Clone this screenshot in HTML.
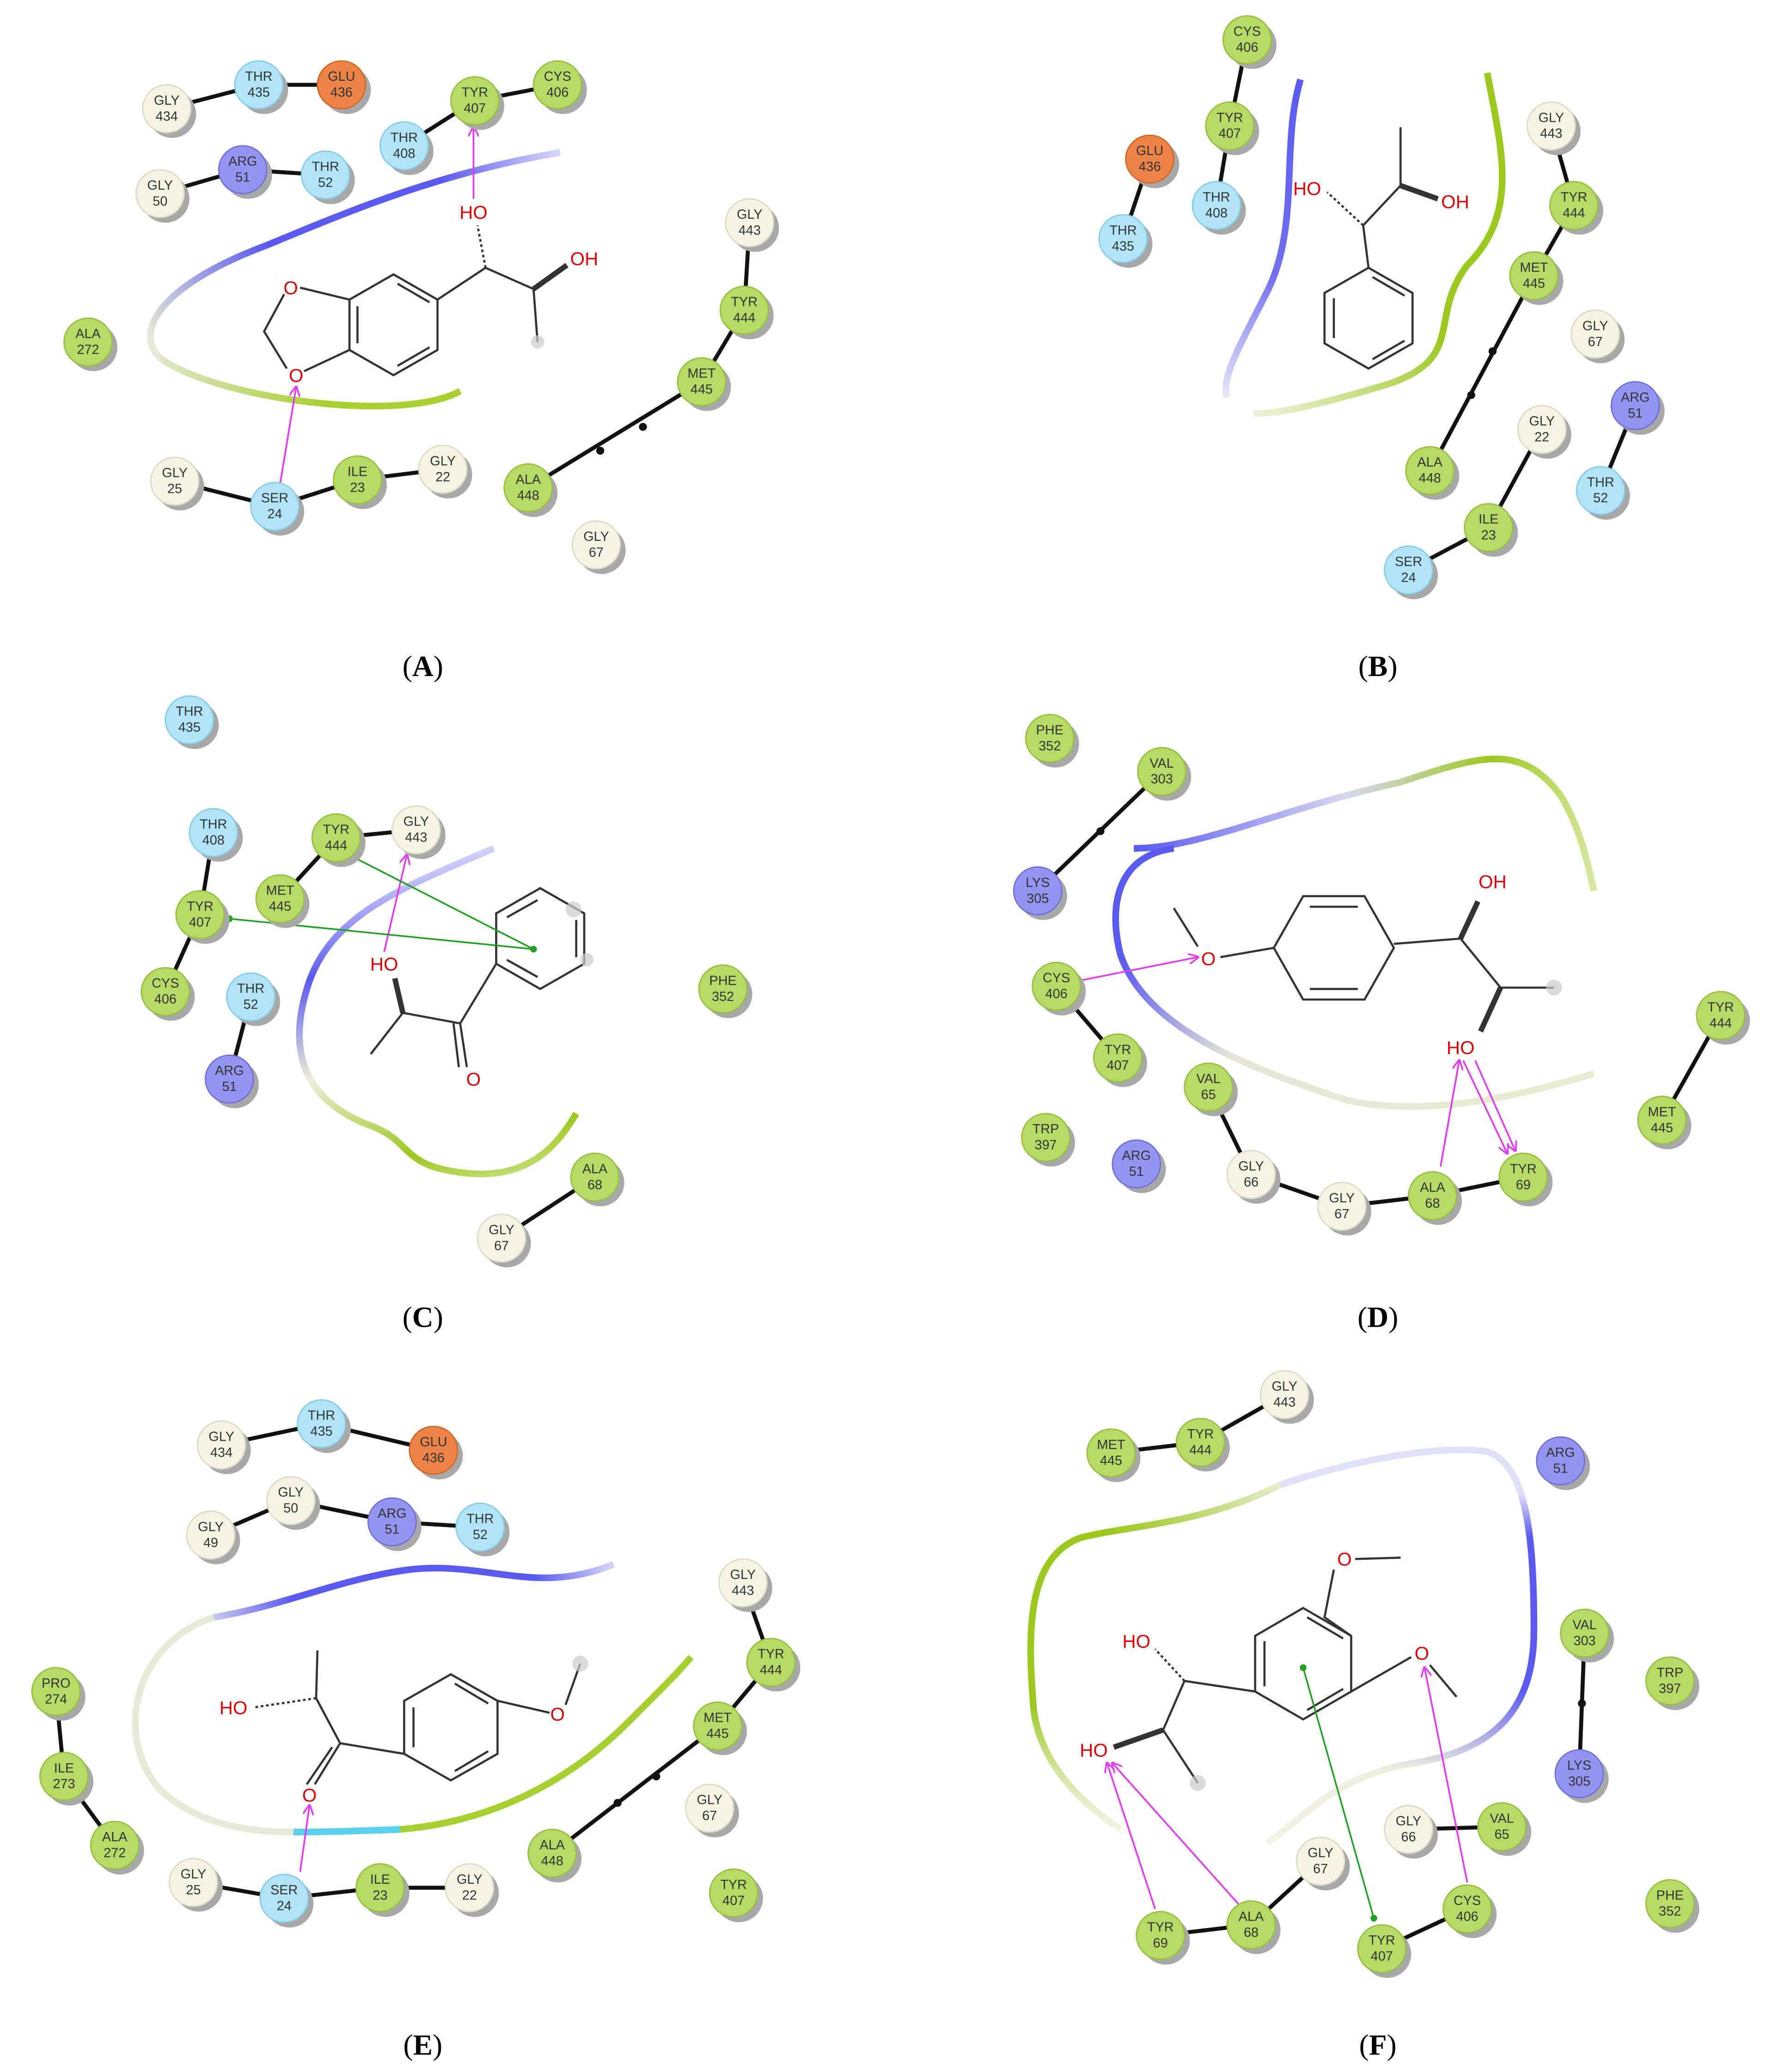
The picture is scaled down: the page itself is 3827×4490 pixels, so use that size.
<!DOCTYPE html>
<html><head><meta charset="utf-8">
<style>
html,body{margin:0;padding:0;background:#fff}
svg{display:block}
.t{font-family:"Liberation Sans",sans-serif;font-size:10px;fill:#333;text-anchor:middle}
.a{font-family:"Liberation Sans",sans-serif;font-size:14px;fill:#e00000;text-anchor:middle}
.lab{font-family:"Liberation Serif",serif;font-size:22px;fill:#000;text-anchor:middle}
.sh{fill:#a8a8a8}
.G{fill:#f4f4e4;stroke:#dcdcc4;stroke-width:1}
.H{fill:#b6da66;stroke:#98c040;stroke-width:1}
.B{fill:#b0e4f6;stroke:#88cce8;stroke-width:1}
.P{fill:#9494f2;stroke:#7070d8;stroke-width:1}
.O{fill:#ec8448;stroke:#d06828;stroke-width:1}
.c{stroke:#111;stroke-width:3;fill:none}
.m{stroke:#333;stroke-width:1.6;fill:none}
.hb{stroke:#e040f0;stroke-width:1.3;fill:none;marker-end:url(#ar)}
.pi{stroke:#20a020;stroke-width:1.2;fill:none}
</style></head><body>
<svg width="3827" height="4490" viewBox="0 0 1324 1563" preserveAspectRatio="none" xmlns="http://www.w3.org/2000/svg">
<defs>
<marker id="ar" markerWidth="8" markerHeight="8" refX="7" refY="4" orient="auto" markerUnits="userSpaceOnUse"><path d="M0,0 L8,4 L0,8" fill="none" stroke="#e040f0" stroke-width="1.3"/></marker>
<linearGradient id="gA1" gradientUnits="userSpaceOnUse" x1="420" y1="115" x2="200" y2="185"><stop offset="0" stop-color="#d8d8f8"/><stop offset="0.4" stop-color="#5a5af0"/><stop offset="1" stop-color="#5a5af0"/></linearGradient>
<linearGradient id="gA2" gradientUnits="userSpaceOnUse" x1="200" y1="185" x2="110" y2="250"><stop offset="0" stop-color="#5a5af0"/><stop offset="1" stop-color="#e6e8d8"/></linearGradient>
<linearGradient id="gA3" gradientUnits="userSpaceOnUse" x1="110" y1="250" x2="345" y2="300"><stop offset="0" stop-color="#e6e8d8"/><stop offset="0.6" stop-color="#a8d030"/><stop offset="1" stop-color="#a8d030"/></linearGradient>
<linearGradient id="gB1" gradientUnits="userSpaceOnUse" x1="975" y1="60" x2="920" y2="300"><stop offset="0" stop-color="#5a5af0"/><stop offset="0.6" stop-color="#7070f0"/><stop offset="1" stop-color="#e8e8f8"/></linearGradient>
<linearGradient id="gB2" gradientUnits="userSpaceOnUse" x1="1115" y1="55" x2="940" y2="312"><stop offset="0" stop-color="#9cc820"/><stop offset="0.6" stop-color="#9cc820"/><stop offset="1" stop-color="#eef2d8"/></linearGradient>
<linearGradient id="gC" gradientUnits="userSpaceOnUse" x1="370" y1="640" x2="430" y2="880"><stop offset="0" stop-color="#d0d0f8"/><stop offset="0.25" stop-color="#5a5af0"/><stop offset="0.55" stop-color="#eeeed8"/><stop offset="0.85" stop-color="#9cc820"/><stop offset="1" stop-color="#c8e080"/></linearGradient>
<linearGradient id="gD1" gradientUnits="userSpaceOnUse" x1="850" y1="640" x2="1195" y2="670"><stop offset="0" stop-color="#5a5af0"/><stop offset="0.45" stop-color="#d8d8f0"/><stop offset="0.75" stop-color="#9cc820"/><stop offset="1" stop-color="#d8e8a0"/></linearGradient>
<linearGradient id="gD2" gradientUnits="userSpaceOnUse" x1="880" y1="650" x2="1190" y2="810"><stop offset="0" stop-color="#5a5af0"/><stop offset="0.3" stop-color="#e6e6d8"/><stop offset="1" stop-color="#e8ecd0"/></linearGradient>
<linearGradient id="gE1" gradientUnits="userSpaceOnUse" x1="460" y1="1180" x2="160" y2="1220"><stop offset="0" stop-color="#d8d8f8"/><stop offset="0.2" stop-color="#5a5af0"/><stop offset="0.8" stop-color="#5a5af0"/><stop offset="1" stop-color="#c8c8f0"/></linearGradient>
<linearGradient id="gF1" gradientUnits="userSpaceOnUse" x1="960" y1="1120" x2="840" y2="1380"><stop offset="0" stop-color="#e8eed0"/><stop offset="0.3" stop-color="#9cc820"/><stop offset="0.8" stop-color="#9cc820"/><stop offset="1" stop-color="#f0f4e0"/></linearGradient>
<linearGradient id="gF2" gradientUnits="userSpaceOnUse" x1="960" y1="1120" x2="950" y2="1390"><stop offset="0" stop-color="#e0e0f8"/><stop offset="0.12" stop-color="#5a5af0"/><stop offset="0.55" stop-color="#5a5af0"/><stop offset="0.78" stop-color="#eeeede"/><stop offset="1" stop-color="#f2f2e6"/></linearGradient>
</defs>

<!-- Curves -->
<path d="M420,115 C330,130 260,160 200,185" stroke="url(#gA1)" stroke-width="5" fill="none"/>
<path d="M200,185 C120,215 100,250 120,270" stroke="url(#gA2)" stroke-width="5" fill="none"/>
<path d="M120,270 C160,300 300,320 345,295" stroke="url(#gA3)" stroke-width="5" fill="none"/>
<path d="M975,60 C960,110 975,170 950,220 C930,260 915,285 920,300" stroke="url(#gB1)" stroke-width="5" fill="none"/>
<path d="M1115,55 C1125,110 1140,160 1100,200 C1070,240 1100,270 1040,290 C990,305 960,312 940,312" stroke="url(#gB2)" stroke-width="5" fill="none"/>
<path d="M370,640 C300,670 250,690 232,740 C215,790 225,830 280,850 C310,862 300,880 350,885 C400,890 420,860 432,840" stroke="url(#gC)" stroke-width="5" fill="none"/>
<path d="M850,640 C900,640 960,610 1050,590 C1110,570 1140,560 1170,600 C1185,625 1190,650 1195,672" stroke="url(#gD1)" stroke-width="5" fill="none"/>
<path d="M880,640 C840,645 830,680 840,720 C860,780 950,810 1010,830 C1080,845 1160,820 1195,810" stroke="url(#gD2)" stroke-width="5" fill="none"/>
<path d="M460,1180 C400,1205 360,1175 300,1185 C250,1193 210,1212 160,1220" stroke="url(#gE1)" stroke-width="5" fill="none"/>
<path d="M160,1220 C100,1240 85,1310 120,1350 C150,1378 190,1382 220,1382" stroke="#e8ead8" stroke-width="5" fill="none"/>
<path d="M220,1382 C250,1382 270,1381 300,1380" stroke="#58d0ee" stroke-width="5" fill="none"/>
<path d="M300,1380 C360,1375 420,1350 470,1300 C495,1275 510,1260 518,1250" stroke="#a6d030" stroke-width="5" fill="none"/>
<path d="M960,1120 C900,1150 850,1150 810,1160 C770,1175 770,1230 775,1290 C780,1330 810,1360 840,1380" stroke="url(#gF1)" stroke-width="5" fill="none"/>
<path d="M960,1120 C1020,1100 1080,1090 1115,1095 C1145,1105 1150,1160 1150,1230 C1150,1290 1120,1320 1060,1330 C1000,1340 980,1370 950,1390" stroke="url(#gF2)" stroke-width="5" fill="none"/>

<!-- Chains -->
<g class="c">
<polyline points="125,82 194,64 256,64"/><polyline points="303,110 356,76 418,64"/><polyline points="120,146 182,128 244,132"/>
<polyline points="562,168 558,234 526,288 396,368"/><polyline points="131,363 206,382 268,362 332,354"/>
<polyline points="935,30 922,95 912,155"/><line x1="862" y1="120" x2="842" y2="180"/><polyline points="1163,95 1180,155 1150,208 1072,355"/>
<polyline points="1156,324 1116,398 1056,430"/><line x1="1226" y1="306" x2="1200" y2="370"/>
<polyline points="160,628 150,690 124,748"/><polyline points="312,626 252,632 210,678"/><line x1="188" y1="752" x2="172" y2="814"/><line x1="446" y1="888" x2="376" y2="934"/>
<line x1="871" y1="582" x2="778" y2="672"/><polyline points="792,744 838,798"/><polyline points="906,820 938,886 1006,910 1074,902 1142,888"/><line x1="1290" y1="766" x2="1246" y2="845"/>
<polyline points="166,1090 241,1074 325,1094"/><polyline points="158,1158 218,1132 294,1148 360,1152"/><polyline points="42,1276 48,1340 86,1392"/>
<polyline points="557,1194 578,1254 538,1302 414,1398"/><polyline points="145,1420 213,1432 285,1424 352,1424"/>
<polyline points="833,1096 900,1088 963,1052"/><line x1="1188" y1="1232" x2="1184" y2="1338"/><line x1="1056" y1="1380" x2="1126" y2="1378"/>
<polyline points="870,1460 938,1452 990,1404"/><line x1="1036" y1="1470" x2="1100" y2="1440"/>
</g>
<g fill="#111"><circle cx="450" cy="340" r="3"/><circle cx="482" cy="322" r="3"/><circle cx="1103" cy="298" r="3"/><circle cx="1119" cy="265" r="3"/><circle cx="825" cy="627" r="3"/><circle cx="463" cy="1360" r="3"/><circle cx="492" cy="1340" r="3"/><circle cx="1186" cy="1285" r="3"/></g>

<!-- Molecules -->
<g class="m">
<polygon points="262,226 295,207 328,226 328,264 295,283 262,264"/><line x1="268" y1="231" x2="268" y2="259"/><line x1="298" y1="214" x2="322" y2="228"/><line x1="298" y1="276" x2="322" y2="262"/>
<polyline points="262,226 225,217"/><polyline points="213,222 198,250 215,278"/><line x1="262" y1="264" x2="228" y2="280"/>
<polyline points="328,226 364,202 400,218 403,258"/><line x1="364" y1="202" x2="358" y2="170" stroke-dasharray="2,2"/><line x1="400" y1="218" x2="425" y2="200" stroke-width="4"/>
<polygon points="1026,202 1059,221 1059,259 1026,278 993,259 993,221"/><line x1="1000" y1="225" x2="1000" y2="255"/><line x1="1029" y1="271" x2="1053" y2="257"/><line x1="1029" y1="209" x2="1053" y2="223"/>
<polyline points="1026,202 1022,170 1050,140 1050,96"/><line x1="1022" y1="170" x2="995" y2="145" stroke-dasharray="2,2"/><line x1="1050" y1="140" x2="1078" y2="150" stroke-width="4"/>
<polygon points="372,689 405,670 438,689 438,727 405,746 372,727"/><line x1="380" y1="692" x2="403" y2="679"/><line x1="432" y1="694" x2="432" y2="722"/><line x1="380" y1="724" x2="403" y2="737"/>
<polyline points="372,727 345,772 350,805"/><line x1="340" y1="772" x2="344" y2="805"/><polyline points="345,772 302,764 278,795"/><line x1="302" y1="764" x2="296" y2="738" stroke-width="4"/>
<polygon points="955,715 977,676 1023,676 1045,715 1023,754 977,754"/><line x1="982" y1="684" x2="1018" y2="684"/><line x1="982" y1="746" x2="1018" y2="746"/>
<polyline points="955,715 915,722"/><line x1="898" y1="714" x2="880" y2="685"/>
<polyline points="1045,712 1095,708 1125,745 1165,745"/><line x1="1095" y1="708" x2="1108" y2="680" stroke-width="4"/><line x1="1125" y1="745" x2="1110" y2="778" stroke-width="4"/>
<polygon points="338,1263 373,1283 373,1323 338,1343 303,1323 303,1283"/><line x1="310" y1="1288" x2="310" y2="1318"/><line x1="341" y1="1336" x2="366" y2="1321"/><line x1="341" y1="1270" x2="366" y2="1285"/>
<polyline points="303,1323 255,1315 237,1281 238,1245"/><line x1="255" y1="1315" x2="236" y2="1346"/><line x1="249" y1="1318" x2="230" y2="1346"/><line x1="237" y1="1281" x2="190" y2="1288" stroke-dasharray="2,2"/>
<polyline points="373,1283 412,1292"/><line x1="424" y1="1286" x2="435" y2="1255"/>
<polygon points="977,1213 1013,1234 1013,1276 977,1297 941,1276 941,1234"/><line x1="948" y1="1238" x2="948" y2="1272"/><line x1="980" y1="1290" x2="1007" y2="1274"/><line x1="980" y1="1220" x2="1007" y2="1236"/>
<polyline points="1013,1234 993,1220 1000,1184"/><line x1="1016" y1="1176" x2="1050" y2="1175"/><line x1="1013" y1="1276" x2="1058" y2="1250"/><line x1="1072" y1="1256" x2="1092" y2="1280"/>
<polyline points="941,1276 888,1268 872,1305 898,1345"/><line x1="888" y1="1268" x2="866" y2="1244" stroke-dasharray="2,2"/><line x1="872" y1="1305" x2="835" y2="1318" stroke-width="4"/>
</g>
<g fill="#ccc" opacity="0.7"><circle cx="403" cy="258" r="5"/><circle cx="430" cy="686" r="6"/><circle cx="440" cy="724" r="5"/><circle cx="1165" cy="745" r="6"/><circle cx="435" cy="1255" r="6"/><circle cx="898" cy="1345" r="6"/></g>
<g class="a">
<text x="218" y="222">O</text><text x="222" y="288">O</text><text x="355" y="165">HO</text><text x="438" y="200">OH</text>
<text x="980" y="147">HO</text><text x="1091" y="157">OH</text>
<text x="288" y="732">HO</text><text x="355" y="819">O</text>
<text x="906" y="728">O</text><text x="1119" y="670">OH</text><text x="1095" y="795">HO</text>
<text x="175" y="1293">HO</text><text x="232" y="1359">O</text><text x="418" y="1298">O</text>
<text x="1008" y="1181">O</text><text x="1066" y="1252">O</text><text x="852" y="1243">HO</text><text x="820" y="1325">HO</text>
</g>

<!-- interaction lines -->
<g>
<line class="hb" x1="210" y1="365" x2="222" y2="292"/><line class="hb" x1="355" y1="150" x2="355" y2="96"/>
<line class="hb" x1="288" y1="718" x2="305" y2="645"/>
<line class="pi" x1="172" y1="693" x2="400" y2="716"/><line class="pi" x1="262" y1="645" x2="400" y2="716"/>
<line class="hb" x1="808" y1="740" x2="898" y2="722"/><line class="hb" x1="1080" y1="880" x2="1094" y2="800"/>
<line class="hb" x1="1097" y1="800" x2="1130" y2="870"/><line class="hb" x1="1106" y1="800" x2="1136" y2="868"/>
<line class="hb" x1="225" y1="1412" x2="232" y2="1362"/>
<line class="hb" x1="866" y1="1440" x2="830" y2="1330"/><line class="hb" x1="930" y1="1438" x2="834" y2="1330"/>
<line class="hb" x1="1100" y1="1420" x2="1068" y2="1258"/><line class="pi" x1="977" y1="1258" x2="1030" y2="1447"/>
</g>
<g fill="#20a020"><circle cx="172" cy="693" r="2.5"/><circle cx="400" cy="716" r="2.5"/><circle cx="977" cy="1258" r="2.5"/><circle cx="1030" cy="1447" r="2.5"/></g>

<!-- Residues -->
<g id="res">
<circle class="sh" cx="129" cy="86" r="18"/><circle class="G" cx="125" cy="82" r="18"/><text class="t" x="125" y="79">GLY</text><text class="t" x="125" y="91">434</text>
<circle class="sh" cx="198" cy="68" r="18"/><circle class="B" cx="194" cy="64" r="18"/><text class="t" x="194" y="61">THR</text><text class="t" x="194" y="73">435</text>
<circle class="sh" cx="260" cy="68" r="18"/><circle class="O" cx="256" cy="64" r="18"/><text class="t" x="256" y="61">GLU</text><text class="t" x="256" y="73">436</text>
<circle class="sh" cx="360" cy="80" r="18"/><circle class="H" cx="356" cy="76" r="18"/><text class="t" x="356" y="73">TYR</text><text class="t" x="356" y="85">407</text>
<circle class="sh" cx="422" cy="68" r="18"/><circle class="H" cx="418" cy="64" r="18"/><text class="t" x="418" y="61">CYS</text><text class="t" x="418" y="73">406</text>
<circle class="sh" cx="307" cy="114" r="18"/><circle class="B" cx="303" cy="110" r="18"/><text class="t" x="303" y="107">THR</text><text class="t" x="303" y="119">408</text>
<circle class="sh" cx="186" cy="132" r="18"/><circle class="P" cx="182" cy="128" r="18"/><text class="t" x="182" y="125">ARG</text><text class="t" x="182" y="137">51</text>
<circle class="sh" cx="248" cy="136" r="18"/><circle class="B" cx="244" cy="132" r="18"/><text class="t" x="244" y="129">THR</text><text class="t" x="244" y="141">52</text>
<circle class="sh" cx="124" cy="150" r="18"/><circle class="G" cx="120" cy="146" r="18"/><text class="t" x="120" y="143">GLY</text><text class="t" x="120" y="155">50</text>
<circle class="sh" cx="70" cy="262" r="18"/><circle class="H" cx="66" cy="258" r="18"/><text class="t" x="66" y="255">ALA</text><text class="t" x="66" y="267">272</text>
<circle class="sh" cx="566" cy="172" r="18"/><circle class="G" cx="562" cy="168" r="18"/><text class="t" x="562" y="165">GLY</text><text class="t" x="562" y="177">443</text>
<circle class="sh" cx="562" cy="238" r="18"/><circle class="H" cx="558" cy="234" r="18"/><text class="t" x="558" y="231">TYR</text><text class="t" x="558" y="243">444</text>
<circle class="sh" cx="530" cy="292" r="18"/><circle class="H" cx="526" cy="288" r="18"/><text class="t" x="526" y="285">MET</text><text class="t" x="526" y="297">445</text>
<circle class="sh" cx="400" cy="372" r="18"/><circle class="H" cx="396" cy="368" r="18"/><text class="t" x="396" y="365">ALA</text><text class="t" x="396" y="377">448</text>
<circle class="sh" cx="451" cy="415" r="18"/><circle class="G" cx="447" cy="411" r="18"/><text class="t" x="447" y="408">GLY</text><text class="t" x="447" y="420">67</text>
<circle class="sh" cx="135" cy="367" r="18"/><circle class="G" cx="131" cy="363" r="18"/><text class="t" x="131" y="360">GLY</text><text class="t" x="131" y="372">25</text>
<circle class="sh" cx="210" cy="386" r="18"/><circle class="B" cx="206" cy="382" r="18"/><text class="t" x="206" y="379">SER</text><text class="t" x="206" y="391">24</text>
<circle class="sh" cx="272" cy="366" r="18"/><circle class="H" cx="268" cy="362" r="18"/><text class="t" x="268" y="359">ILE</text><text class="t" x="268" y="371">23</text>
<circle class="sh" cx="336" cy="358" r="18"/><circle class="G" cx="332" cy="354" r="18"/><text class="t" x="332" y="351">GLY</text><text class="t" x="332" y="363">22</text>
<circle class="sh" cx="939" cy="34" r="18"/><circle class="H" cx="935" cy="30" r="18"/><text class="t" x="935" y="27">CYS</text><text class="t" x="935" y="39">406</text>
<circle class="sh" cx="926" cy="99" r="18"/><circle class="H" cx="922" cy="95" r="18"/><text class="t" x="922" y="92">TYR</text><text class="t" x="922" y="104">407</text>
<circle class="sh" cx="866" cy="124" r="18"/><circle class="O" cx="862" cy="120" r="18"/><text class="t" x="862" y="117">GLU</text><text class="t" x="862" y="129">436</text>
<circle class="sh" cx="916" cy="159" r="18"/><circle class="B" cx="912" cy="155" r="18"/><text class="t" x="912" y="152">THR</text><text class="t" x="912" y="164">408</text>
<circle class="sh" cx="846" cy="184" r="18"/><circle class="B" cx="842" cy="180" r="18"/><text class="t" x="842" y="177">THR</text><text class="t" x="842" y="189">435</text>
<circle class="sh" cx="1167" cy="99" r="18"/><circle class="G" cx="1163" cy="95" r="18"/><text class="t" x="1163" y="92">GLY</text><text class="t" x="1163" y="104">443</text>
<circle class="sh" cx="1184" cy="159" r="18"/><circle class="H" cx="1180" cy="155" r="18"/><text class="t" x="1180" y="152">TYR</text><text class="t" x="1180" y="164">444</text>
<circle class="sh" cx="1154" cy="212" r="18"/><circle class="H" cx="1150" cy="208" r="18"/><text class="t" x="1150" y="205">MET</text><text class="t" x="1150" y="217">445</text>
<circle class="sh" cx="1200" cy="256" r="18"/><circle class="G" cx="1196" cy="252" r="18"/><text class="t" x="1196" y="249">GLY</text><text class="t" x="1196" y="261">67</text>
<circle class="sh" cx="1230" cy="310" r="18"/><circle class="P" cx="1226" cy="306" r="18"/><text class="t" x="1226" y="303">ARG</text><text class="t" x="1226" y="315">51</text>
<circle class="sh" cx="1204" cy="374" r="18"/><circle class="B" cx="1200" cy="370" r="18"/><text class="t" x="1200" y="367">THR</text><text class="t" x="1200" y="379">52</text>
<circle class="sh" cx="1160" cy="328" r="18"/><circle class="G" cx="1156" cy="324" r="18"/><text class="t" x="1156" y="321">GLY</text><text class="t" x="1156" y="333">22</text>
<circle class="sh" cx="1076" cy="359" r="18"/><circle class="H" cx="1072" cy="355" r="18"/><text class="t" x="1072" y="352">ALA</text><text class="t" x="1072" y="364">448</text>
<circle class="sh" cx="1120" cy="402" r="18"/><circle class="H" cx="1116" cy="398" r="18"/><text class="t" x="1116" y="395">ILE</text><text class="t" x="1116" y="407">23</text>
<circle class="sh" cx="1060" cy="434" r="18"/><circle class="B" cx="1056" cy="430" r="18"/><text class="t" x="1056" y="427">SER</text><text class="t" x="1056" y="439">24</text>
<circle class="sh" cx="146" cy="547" r="18"/><circle class="B" cx="142" cy="543" r="18"/><text class="t" x="142" y="540">THR</text><text class="t" x="142" y="552">435</text>
<circle class="sh" cx="164" cy="632" r="18"/><circle class="B" cx="160" cy="628" r="18"/><text class="t" x="160" y="625">THR</text><text class="t" x="160" y="637">408</text>
<circle class="sh" cx="256" cy="636" r="18"/><circle class="H" cx="252" cy="632" r="18"/><text class="t" x="252" y="629">TYR</text><text class="t" x="252" y="641">444</text>
<circle class="sh" cx="316" cy="630" r="18"/><circle class="G" cx="312" cy="626" r="18"/><text class="t" x="312" y="623">GLY</text><text class="t" x="312" y="635">443</text>
<circle class="sh" cx="214" cy="682" r="18"/><circle class="H" cx="210" cy="678" r="18"/><text class="t" x="210" y="675">MET</text><text class="t" x="210" y="687">445</text>
<circle class="sh" cx="154" cy="694" r="18"/><circle class="H" cx="150" cy="690" r="18"/><text class="t" x="150" y="687">TYR</text><text class="t" x="150" y="699">407</text>
<circle class="sh" cx="128" cy="752" r="18"/><circle class="H" cx="124" cy="748" r="18"/><text class="t" x="124" y="745">CYS</text><text class="t" x="124" y="757">406</text>
<circle class="sh" cx="192" cy="756" r="18"/><circle class="B" cx="188" cy="752" r="18"/><text class="t" x="188" y="749">THR</text><text class="t" x="188" y="761">52</text>
<circle class="sh" cx="176" cy="818" r="18"/><circle class="P" cx="172" cy="814" r="18"/><text class="t" x="172" y="811">ARG</text><text class="t" x="172" y="823">51</text>
<circle class="sh" cx="546" cy="750" r="18"/><circle class="H" cx="542" cy="746" r="18"/><text class="t" x="542" y="743">PHE</text><text class="t" x="542" y="755">352</text>
<circle class="sh" cx="450" cy="892" r="18"/><circle class="H" cx="446" cy="888" r="18"/><text class="t" x="446" y="885">ALA</text><text class="t" x="446" y="897">68</text>
<circle class="sh" cx="380" cy="938" r="18"/><circle class="G" cx="376" cy="934" r="18"/><text class="t" x="376" y="931">GLY</text><text class="t" x="376" y="943">67</text>
<circle class="sh" cx="791" cy="561" r="18"/><circle class="H" cx="787" cy="557" r="18"/><text class="t" x="787" y="554">PHE</text><text class="t" x="787" y="566">352</text>
<circle class="sh" cx="875" cy="586" r="18"/><circle class="H" cx="871" cy="582" r="18"/><text class="t" x="871" y="579">VAL</text><text class="t" x="871" y="591">303</text>
<circle class="sh" cx="782" cy="676" r="18"/><circle class="P" cx="778" cy="672" r="18"/><text class="t" x="778" y="669">LYS</text><text class="t" x="778" y="681">305</text>
<circle class="sh" cx="796" cy="748" r="18"/><circle class="H" cx="792" cy="744" r="18"/><text class="t" x="792" y="741">CYS</text><text class="t" x="792" y="753">406</text>
<circle class="sh" cx="842" cy="802" r="18"/><circle class="H" cx="838" cy="798" r="18"/><text class="t" x="838" y="795">TYR</text><text class="t" x="838" y="807">407</text>
<circle class="sh" cx="788" cy="862" r="18"/><circle class="H" cx="784" cy="858" r="18"/><text class="t" x="784" y="855">TRP</text><text class="t" x="784" y="867">397</text>
<circle class="sh" cx="856" cy="882" r="18"/><circle class="P" cx="852" cy="878" r="18"/><text class="t" x="852" y="875">ARG</text><text class="t" x="852" y="887">51</text>
<circle class="sh" cx="910" cy="824" r="18"/><circle class="H" cx="906" cy="820" r="18"/><text class="t" x="906" y="817">VAL</text><text class="t" x="906" y="829">65</text>
<circle class="sh" cx="942" cy="890" r="18"/><circle class="G" cx="938" cy="886" r="18"/><text class="t" x="938" y="883">GLY</text><text class="t" x="938" y="895">66</text>
<circle class="sh" cx="1010" cy="914" r="18"/><circle class="G" cx="1006" cy="910" r="18"/><text class="t" x="1006" y="907">GLY</text><text class="t" x="1006" y="919">67</text>
<circle class="sh" cx="1078" cy="906" r="18"/><circle class="H" cx="1074" cy="902" r="18"/><text class="t" x="1074" y="899">ALA</text><text class="t" x="1074" y="911">68</text>
<circle class="sh" cx="1146" cy="892" r="18"/><circle class="H" cx="1142" cy="888" r="18"/><text class="t" x="1142" y="885">TYR</text><text class="t" x="1142" y="897">69</text>
<circle class="sh" cx="1294" cy="770" r="18"/><circle class="H" cx="1290" cy="766" r="18"/><text class="t" x="1290" y="763">TYR</text><text class="t" x="1290" y="775">444</text>
<circle class="sh" cx="1250" cy="849" r="18"/><circle class="H" cx="1246" cy="845" r="18"/><text class="t" x="1246" y="842">MET</text><text class="t" x="1246" y="854">445</text>
<circle class="sh" cx="170" cy="1094" r="18"/><circle class="G" cx="166" cy="1090" r="18"/><text class="t" x="166" y="1087">GLY</text><text class="t" x="166" y="1099">434</text>
<circle class="sh" cx="245" cy="1078" r="18"/><circle class="B" cx="241" cy="1074" r="18"/><text class="t" x="241" y="1071">THR</text><text class="t" x="241" y="1083">435</text>
<circle class="sh" cx="329" cy="1098" r="18"/><circle class="O" cx="325" cy="1094" r="18"/><text class="t" x="325" y="1091">GLU</text><text class="t" x="325" y="1103">436</text>
<circle class="sh" cx="222" cy="1136" r="18"/><circle class="G" cx="218" cy="1132" r="18"/><text class="t" x="218" y="1129">GLY</text><text class="t" x="218" y="1141">50</text>
<circle class="sh" cx="162" cy="1162" r="18"/><circle class="G" cx="158" cy="1158" r="18"/><text class="t" x="158" y="1155">GLY</text><text class="t" x="158" y="1167">49</text>
<circle class="sh" cx="298" cy="1152" r="18"/><circle class="P" cx="294" cy="1148" r="18"/><text class="t" x="294" y="1145">ARG</text><text class="t" x="294" y="1157">51</text>
<circle class="sh" cx="364" cy="1156" r="18"/><circle class="B" cx="360" cy="1152" r="18"/><text class="t" x="360" y="1149">THR</text><text class="t" x="360" y="1161">52</text>
<circle class="sh" cx="46" cy="1280" r="18"/><circle class="H" cx="42" cy="1276" r="18"/><text class="t" x="42" y="1273">PRO</text><text class="t" x="42" y="1285">274</text>
<circle class="sh" cx="52" cy="1344" r="18"/><circle class="H" cx="48" cy="1340" r="18"/><text class="t" x="48" y="1337">ILE</text><text class="t" x="48" y="1349">273</text>
<circle class="sh" cx="90" cy="1396" r="18"/><circle class="H" cx="86" cy="1392" r="18"/><text class="t" x="86" y="1389">ALA</text><text class="t" x="86" y="1401">272</text>
<circle class="sh" cx="561" cy="1198" r="18"/><circle class="G" cx="557" cy="1194" r="18"/><text class="t" x="557" y="1191">GLY</text><text class="t" x="557" y="1203">443</text>
<circle class="sh" cx="582" cy="1258" r="18"/><circle class="H" cx="578" cy="1254" r="18"/><text class="t" x="578" y="1251">TYR</text><text class="t" x="578" y="1263">444</text>
<circle class="sh" cx="542" cy="1306" r="18"/><circle class="H" cx="538" cy="1302" r="18"/><text class="t" x="538" y="1299">MET</text><text class="t" x="538" y="1311">445</text>
<circle class="sh" cx="536" cy="1368" r="18"/><circle class="G" cx="532" cy="1364" r="18"/><text class="t" x="532" y="1361">GLY</text><text class="t" x="532" y="1373">67</text>
<circle class="sh" cx="418" cy="1402" r="18"/><circle class="H" cx="414" cy="1398" r="18"/><text class="t" x="414" y="1395">ALA</text><text class="t" x="414" y="1407">448</text>
<circle class="sh" cx="554" cy="1432" r="18"/><circle class="H" cx="550" cy="1428" r="18"/><text class="t" x="550" y="1425">TYR</text><text class="t" x="550" y="1437">407</text>
<circle class="sh" cx="149" cy="1424" r="18"/><circle class="G" cx="145" cy="1420" r="18"/><text class="t" x="145" y="1417">GLY</text><text class="t" x="145" y="1429">25</text>
<circle class="sh" cx="217" cy="1436" r="18"/><circle class="B" cx="213" cy="1432" r="18"/><text class="t" x="213" y="1429">SER</text><text class="t" x="213" y="1441">24</text>
<circle class="sh" cx="289" cy="1428" r="18"/><circle class="H" cx="285" cy="1424" r="18"/><text class="t" x="285" y="1421">ILE</text><text class="t" x="285" y="1433">23</text>
<circle class="sh" cx="356" cy="1428" r="18"/><circle class="G" cx="352" cy="1424" r="18"/><text class="t" x="352" y="1421">GLY</text><text class="t" x="352" y="1433">22</text>
<circle class="sh" cx="967" cy="1056" r="18"/><circle class="G" cx="963" cy="1052" r="18"/><text class="t" x="963" y="1049">GLY</text><text class="t" x="963" y="1061">443</text>
<circle class="sh" cx="837" cy="1100" r="18"/><circle class="H" cx="833" cy="1096" r="18"/><text class="t" x="833" y="1093">MET</text><text class="t" x="833" y="1105">445</text>
<circle class="sh" cx="904" cy="1092" r="18"/><circle class="H" cx="900" cy="1088" r="18"/><text class="t" x="900" y="1085">TYR</text><text class="t" x="900" y="1097">444</text>
<circle class="sh" cx="1174" cy="1106" r="18"/><circle class="P" cx="1170" cy="1102" r="18"/><text class="t" x="1170" y="1099">ARG</text><text class="t" x="1170" y="1111">51</text>
<circle class="sh" cx="1192" cy="1236" r="18"/><circle class="H" cx="1188" cy="1232" r="18"/><text class="t" x="1188" y="1229">VAL</text><text class="t" x="1188" y="1241">303</text>
<circle class="sh" cx="1256" cy="1272" r="18"/><circle class="H" cx="1252" cy="1268" r="18"/><text class="t" x="1252" y="1265">TRP</text><text class="t" x="1252" y="1277">397</text>
<circle class="sh" cx="1188" cy="1342" r="18"/><circle class="P" cx="1184" cy="1338" r="18"/><text class="t" x="1184" y="1335">LYS</text><text class="t" x="1184" y="1347">305</text>
<circle class="sh" cx="1130" cy="1382" r="18"/><circle class="H" cx="1126" cy="1378" r="18"/><text class="t" x="1126" y="1375">VAL</text><text class="t" x="1126" y="1387">65</text>
<circle class="sh" cx="1060" cy="1384" r="18"/><circle class="G" cx="1056" cy="1380" r="18"/><text class="t" x="1056" y="1377">GLY</text><text class="t" x="1056" y="1389">66</text>
<circle class="sh" cx="994" cy="1408" r="18"/><circle class="G" cx="990" cy="1404" r="18"/><text class="t" x="990" y="1401">GLY</text><text class="t" x="990" y="1413">67</text>
<circle class="sh" cx="1256" cy="1440" r="18"/><circle class="H" cx="1252" cy="1436" r="18"/><text class="t" x="1252" y="1433">PHE</text><text class="t" x="1252" y="1445">352</text>
<circle class="sh" cx="874" cy="1464" r="18"/><circle class="H" cx="870" cy="1460" r="18"/><text class="t" x="870" y="1457">TYR</text><text class="t" x="870" y="1469">69</text>
<circle class="sh" cx="942" cy="1456" r="18"/><circle class="H" cx="938" cy="1452" r="18"/><text class="t" x="938" y="1449">ALA</text><text class="t" x="938" y="1461">68</text>
<circle class="sh" cx="1040" cy="1474" r="18"/><circle class="H" cx="1036" cy="1470" r="18"/><text class="t" x="1036" y="1467">TYR</text><text class="t" x="1036" y="1479">407</text>
<circle class="sh" cx="1104" cy="1444" r="18"/><circle class="H" cx="1100" cy="1440" r="18"/><text class="t" x="1100" y="1437">CYS</text><text class="t" x="1100" y="1449">406</text>
</g>

<g class="lab">
<text x="317" y="510">(<tspan font-weight="bold">A</tspan>)</text>
<text x="1033" y="510">(<tspan font-weight="bold">B</tspan>)</text>
<text x="317" y="1001">(<tspan font-weight="bold">C</tspan>)</text>
<text x="1033" y="1001">(<tspan font-weight="bold">D</tspan>)</text>
<text x="317" y="1550">(<tspan font-weight="bold">E</tspan>)</text>
<text x="1033" y="1550">(<tspan font-weight="bold">F</tspan>)</text>
</g>
</svg>
</body></html>
